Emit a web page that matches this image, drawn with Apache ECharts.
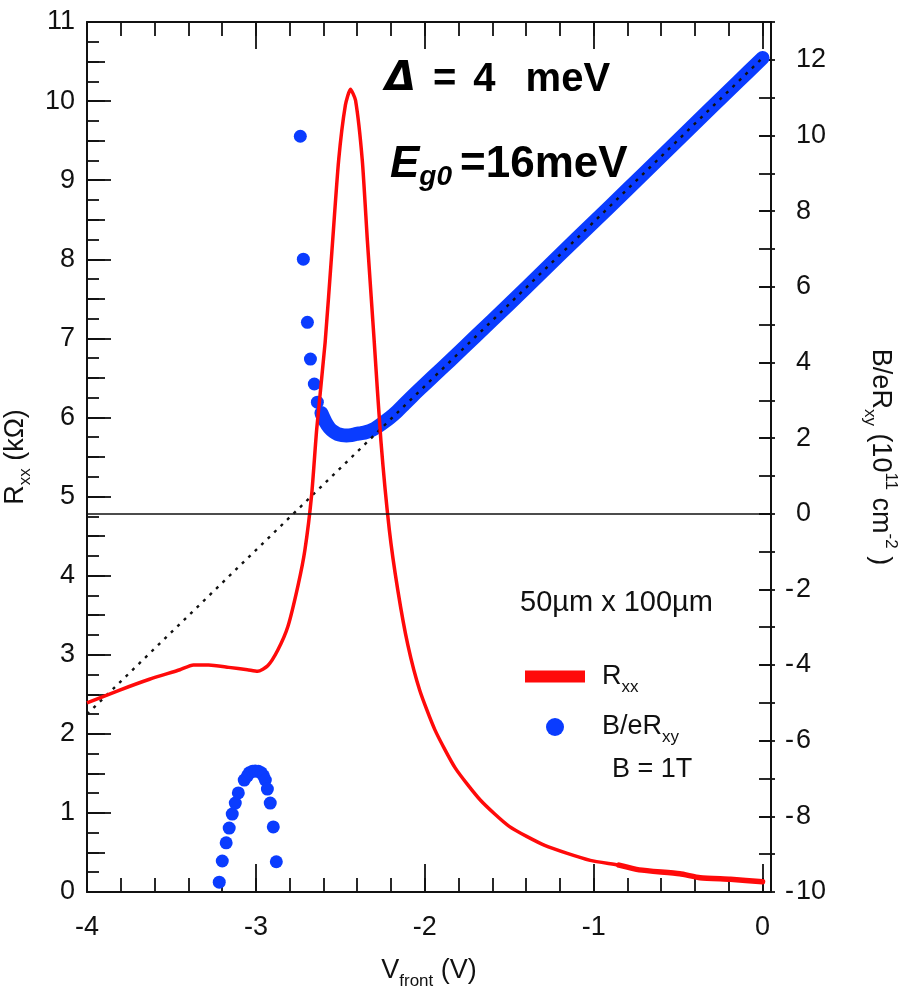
<!DOCTYPE html>
<html><head><meta charset="utf-8">
<script src="https://cdn.jsdelivr.net/npm/echarts@6/dist/echarts.min.js"></script>
<style>html,body{margin:0;padding:0;background:#fff}#c{width:912px;height:1002px}</style>
</head><body><div id="c"></div>
<script>
// ---- data ----
// R_xx (kOhm) vs V_front (V), left axis
const V_RXX = [-4.00,-3.81,-3.63,-3.45,-3.37,-3.28,-3.16,-3.05,-2.99,-2.93,-2.87,-2.81,-2.75,-2.71,-2.67,-2.64,-2.59,-2.55,-2.51,-2.47,-2.44,-2.41,-2.37,-2.34,-2.30,-2.26,-2.21,-2.16,-2.10,-2.03,-1.94,-1.82,-1.67,-1.50,-1.29,-1.02,-0.85,-0.73,-0.49,-0.37,-0.19,0.00];
const RXX   = [2.39,2.55,2.69,2.81,2.87,2.87,2.84,2.81,2.79,2.86,3.06,3.36,3.88,4.32,5.02,5.85,6.95,8.10,9.25,9.95,10.15,10.01,9.25,8.24,6.98,5.71,4.58,3.82,3.12,2.55,2.05,1.57,1.16,0.83,0.59,0.40,0.34,0.28,0.23,0.18,0.16,0.13];
// B/eR_xy (1e11 cm^-2), right axis: dense (overlapping) branch
const V_BAND = [-2.612,-2.588,-2.565,-2.540,-2.517,-2.490,-2.464,-2.435,-2.405,-2.375,-2.345,-2.310,-2.280,-2.245,-2.209,-2.165,-2.120,-2.075,-2.031,-1.95,-1.85,-1.70,-1.50,-1.30,-1.10,-0.90,-0.70,-0.50,-0.30,-0.15,0.00];
const N_BAND = [2.66,2.43,2.27,2.17,2.11,2.08,2.07,2.08,2.11,2.13,2.16,2.22,2.30,2.41,2.53,2.70,2.90,3.10,3.29,3.63,4.05,4.69,5.54,6.41,7.28,8.14,9.01,9.88,10.75,11.40,12.05];
// separated points of the upper branch
const V_SPARSE = [-2.737,-2.719,-2.695,-2.677,-2.654,-2.636];
const N_SPARSE = [9.98,6.73,5.06,4.09,3.43,2.95];
// lower arc
const V_ARC = [-3.217,-3.199,-3.176,-3.158,-3.140,-3.122,-3.104,-3.069,-3.050,-3.039,-3.020,-3.004,-2.985,-2.968,-2.955,-2.944,-2.932,-2.915,-2.897,-2.879];
const N_ARC = [-9.74,-9.18,-8.70,-8.31,-7.94,-7.65,-7.38,-7.04,-6.93,-6.85,-6.81,-6.80,-6.81,-6.85,-6.93,-7.04,-7.28,-7.65,-8.28,-9.20];
// dashed linear fit (end points)
const V_FIT = [-4, 0];
const N_FIT = [-5.3, 12.05];

const FONT = '"Liberation Sans", Arial, Helvetica, sans-serif';
const K = '#111';
const RED = '#ff0a0a';
const BLUE = '#0a3cff';
const pair = (xs, ys) => xs.map((x, i) => [x, ys[i]]);

const xBase = (pos, interval, len, labels, line, extra) => Object.assign({
  type: 'value', position: pos, min: -4, max: 0.05, interval: interval,
  splitLine: {show: false},
  axisLine: {show: line, onZero: false, lineStyle: {color: K, width: 2}},
  axisTick: {show: true, inside: true, length: len, lineStyle: {color: K, width: 1.8}},
  axisLabel: {show: labels, color: K, fontSize: 27, fontFamily: FONT, margin: 22, showMaxLabel: false}
}, extra || {});

const yBase = (pos, min, max, interval, len, inside, labels, line, extra) => Object.assign({
  type: 'value', position: pos, min: min, max: max, interval: interval,
  splitLine: {show: false},
  axisLine: {show: line, onZero: false, lineStyle: {color: K, width: 2}},
  axisTick: {show: true, inside: inside, length: len, lineStyle: {color: K, width: 1.8}},
  axisLabel: {show: labels, color: K, fontSize: 27, fontFamily: FONT, margin: 12}
}, extra || {});

const nameRich = {
  a: {fontSize: 27, fontFamily: FONT, color: K, lineHeight: 38},
  s: {fontSize: 17, fontFamily: FONT, color: K, lineHeight: 17, verticalAlign: 'bottom'},
  p: {fontSize: 17, fontFamily: FONT, color: K, lineHeight: 17, verticalAlign: 'top'}
};

const tail = pair(V_RXX, RXX).filter(d => d[0] >= -0.86);

const option = {
  animation: false,
  backgroundColor: '#fff',
  grid: {left: 87, right: 141, top: 22, bottom: 110, outerBoundsMode: 'none'},
  xAxis: [
    xBase('bottom', 1, 28, true, true, {
      name: '{a|V}{s|front}{a| (V)}', nameLocation: 'middle', nameGap: 60,
      nameTextStyle: {rich: nameRich}
    }),
    xBase('bottom', 0.2, 14, false, false),
    xBase('top', 1, 27, false, true),
    xBase('top', 0.2, 14, false, false)
  ],
  yAxis: [
    yBase('left', 0, 11, 1, 24, true, true, true, {
      name: '{a|R}{s|xx}{a| (kΩ)}', nameLocation: 'middle', nameGap: 52, nameRotate: 90,
      nameTextStyle: {rich: nameRich}
    }),
    yBase('left', 0, 11, 0.5, 18, true, false, false),
    yBase('left', 0, 11, 0.25, 12, true, false, false),
    yBase('right', -10, 13, 2, 12, true, true, true, {
      name: '{a|B/eR}{s|xy}{a| (10}{p|11}{a| cm}{p|-2}{a| )}', nameLocation: 'middle', nameGap: 90, nameRotate: -90,
      nameTextStyle: {rich: nameRich},
      axisLabel: {show: true, margin: 14, showMaxLabel: false,
        formatter: v => v < 0 ? '{m|-}{d|' + (-v) + '}' : '{m|}{d|' + v + '}',
        rich: {m: {width: 11, fontSize: 27, fontFamily: FONT, color: K}, d: {fontSize: 27, fontFamily: FONT, color: K}}}
    }),
    yBase('right', -10, 13, 1, 12, true, false, false),
    yBase('right', -10, 13, 1, 4, false, false, false)
  ],
  legend: {
    orient: 'vertical', left: 520, top: 658, itemWidth: 60, itemHeight: 18, itemGap: 18,
    symbolKeepAspect: true, selectedMode: false,
    data: [
      {name: 'Rxx', icon: 'path://M0,0H60V12H0Z'},
      {name: 'B/eRxy', icon: 'circle'}
    ],
    formatter: n => n === 'Rxx' ? '{g|}{a|R}{s|xx}' : '{g|}{a|B/eR}{s|xy}',
    textStyle: {rich: Object.assign({g: {width: 12}}, nameRich)}
  },
  series: [
    {
      name: 'band', type: 'line', xAxisIndex: 0, yAxisIndex: 3,
      data: pair(V_BAND, N_BAND), showSymbol: false, smooth: 0.3,
      lineStyle: {color: BLUE, width: 14, cap: 'round', join: 'round'}, silent: true
    },
    {
      name: 'B/eRxy', type: 'scatter', xAxisIndex: 0, yAxisIndex: 3,
      data: pair(V_SPARSE, N_SPARSE).concat(pair(V_ARC, N_ARC)),
      symbolSize: 13, itemStyle: {color: BLUE, opacity: 1}
    },
    {
      name: 'fit', type: 'line', xAxisIndex: 0, yAxisIndex: 3,
      data: pair(V_FIT, N_FIT), showSymbol: false,
      lineStyle: {color: K, width: 2.4, type: [3, 6]}, silent: true,
      markLine: {silent: true, symbol: 'none', label: {show: false},
        lineStyle: {color: K, width: 1.6, type: 'solid'}, data: [{yAxis: 0}]}
    },
    {
      name: 'Rxx', type: 'line', xAxisIndex: 0, yAxisIndex: 0,
      data: pair(V_RXX, RXX), showSymbol: false, smooth: 0.2,
      itemStyle: {color: RED}, lineStyle: {color: RED, width: 3.5}
    },
    {
      name: 'RxxTail', type: 'line', xAxisIndex: 0, yAxisIndex: 0,
      data: tail, showSymbol: false, smooth: 0.2,
      lineStyle: {color: RED, width: 5.5, cap: 'round'}, silent: true
    }
  ],
  graphic: [
    {type: 'text', x: 520, y: 603, style: {text: '50µm x 100µm', fontSize: 29, fontFamily: FONT, fill: K, verticalAlign: 'middle'}},
    {type: 'text', x: 612, y: 770, style: {text: 'B = 1T', fontSize: 27, fontFamily: FONT, fill: K, verticalAlign: 'middle'}},
    {type: 'text', x: 385, y: 80, style: {
      text: '{d|Δ}{q|=}{f|4}{u|meV}', verticalAlign: 'middle',
      rich: {
        d: {fontSize: 40, fontFamily: '"DejaVu Sans", sans-serif', fontWeight: 'bold', fontStyle: 'italic', fill: '#000'},
        q: {fontSize: 40, fontFamily: FONT, fontWeight: 'bold', fill: '#000', padding: [0, 0, 0, 17]},
        f: {fontSize: 40, fontFamily: FONT, fontWeight: 'bold', fill: '#000', padding: [0, 0, 0, 17]},
        u: {fontSize: 40, fontFamily: FONT, fontWeight: 'bold', fill: '#000', padding: [0, 0, 0, 30]}
      }}},
    {type: 'text', x: 390, y: 165, style: {
      text: '{e|E}{g|g0}{t|=16meV}', verticalAlign: 'middle',
      rich: {
        e: {fontSize: 44, fontFamily: FONT, fontWeight: 'bold', fontStyle: 'italic', fill: '#000', lineHeight: 52},
        g: {fontSize: 28, fontFamily: FONT, fontWeight: 'bold', fontStyle: 'italic', fill: '#000', lineHeight: 28, verticalAlign: 'bottom'},
        t: {fontSize: 44, fontFamily: FONT, fontWeight: 'bold', fill: '#000', lineHeight: 52, padding: [0, 0, 0, 8]}
      }}}
  ]
};

const chart = echarts.init(document.getElementById('c'), null, {renderer: 'canvas'});
chart.setOption(option);
</script>
</body></html>
